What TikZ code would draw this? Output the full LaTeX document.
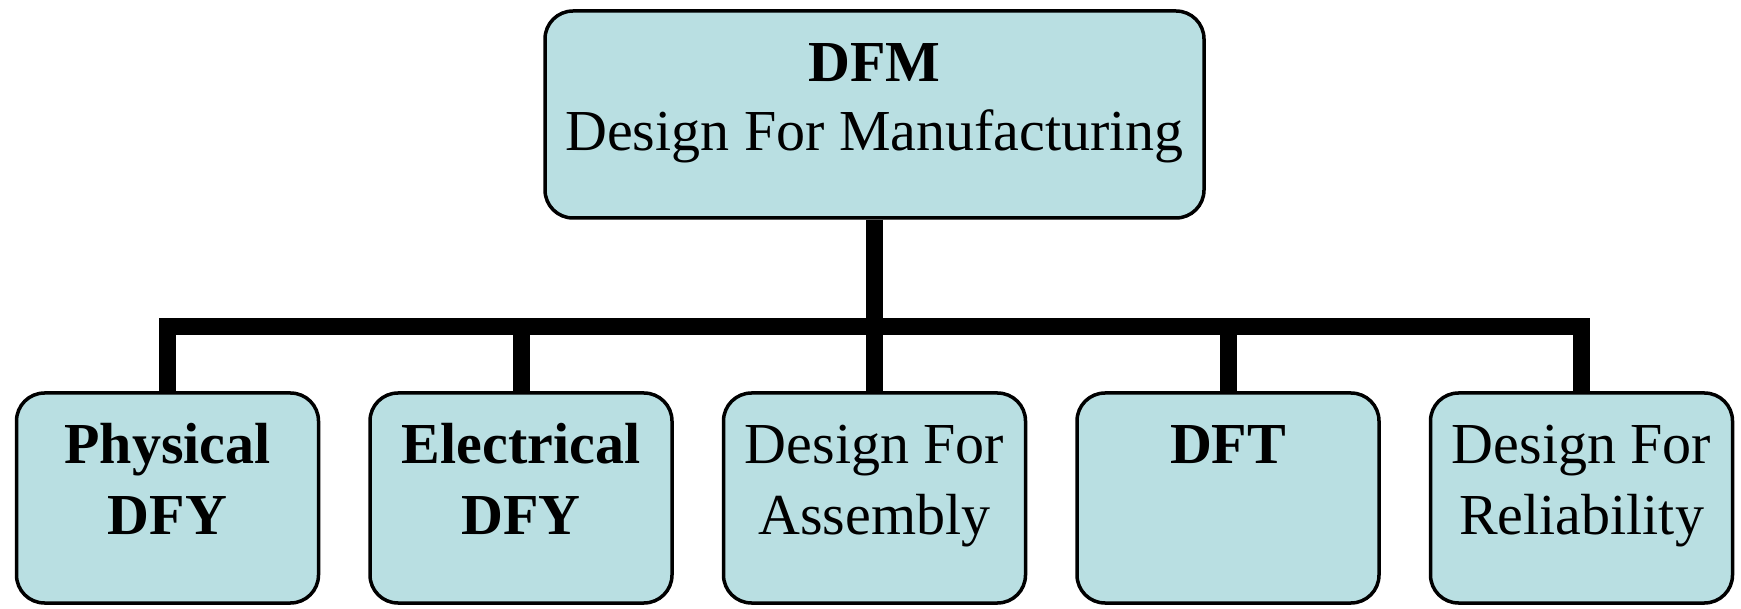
\documentclass[tikz,border=0pt]{standalone}
\usepackage{fontspec}
\setmainfont{Liberation Serif}
\usetikzlibrary{backgrounds}
\definecolor{boxfill}{RGB}{185,223,226}
\begin{document}
\begin{tikzpicture}[x=1pt,y=-1pt,
  box/.style={draw=black, line width=3.5pt, fill=boxfill, rounded corners=28pt,
    minimum width=302pt, minimum height=210pt, inner sep=0pt},
  topbox/.style={box, minimum width=659pt, minimum height=207pt},
  lbl/.style={anchor=base, inner sep=0pt, font=\fontsize{58}{69}\selectfont},
  lblb/.style={anchor=base, inner sep=0pt, font=\fontsize{58}{69}\selectfont\bfseries},
  conn/.style={line width=17pt, line join=miter}]
\useasboundingbox (0,0) rectangle (1741,609);
\node[topbox] (dfm) at (874.5,114.5) {};
\node[box] (b1) at (167.5,498) {};
\node[box] (b2) at (521,498) {};
\node[box] (b3) at (874.5,498) {};
\node[box] (b4) at (1228,498) {};
\node[box] (b5) at (1581.5,498) {};
\coordinate (bar) at (0,327);
\begin{scope}[on background layer]
\draw[conn] (b1.north) -- (b1.north |- bar) -- (b5.north |- bar) -- (b5.north);
\draw[conn] (dfm.south) -- (b3.north);
\draw[conn] (b2.north) -- (b2.north |- bar);
\draw[conn] (b4.north) -- (b4.north |- bar);
\end{scope}
\node[lblb] (t1) at (874.5,82) {DFM};
\node[lbl] (t2) at (874.5,151) {Design For Manufacturing};
\node[lblb] (p1) at (167.5,464) {Physical};
\node[lblb] (p2) at (167.5,534) {DFY};
\node[lblb] (e1) at (521,464) {Electrical};
\node[lblb] (e2) at (521,534) {DFY};
\node[lbl] (a1) at (874.5,464) {Design For};
\node[lbl] (a2) at (874.5,534) {Assembly};
\node[lblb] (d1) at (1228,464) {DFT};
\node[lbl] (r1) at (1581.5,464) {Design For};
\node[lbl] (r2) at (1581.5,534) {Reliability};
\end{tikzpicture}
\end{document}
